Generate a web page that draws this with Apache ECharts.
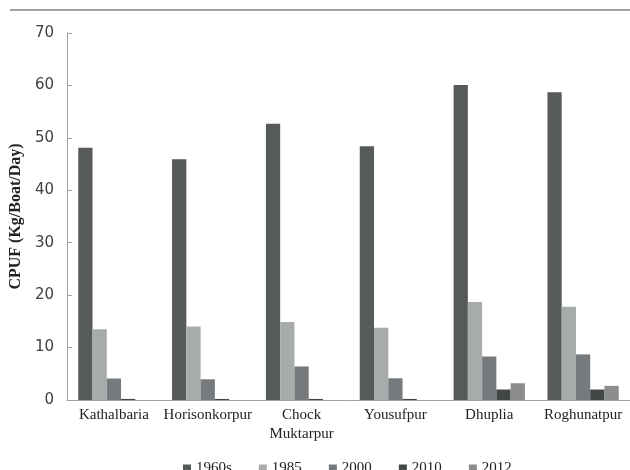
<!DOCTYPE html>
<html>
<head>
<meta charset="utf-8">
<script src="https://cdn.jsdelivr.net/npm/echarts@6/dist/echarts.min.js"></script>
<style>html,body{margin:0;padding:0;background:#fff}#c{width:630px;height:470px}</style>
</head>
<body>
<div id="c"></div>
<script>
const categories = ['Kathalbaria', 'Horisonkorpur', 'Chock\nMuktarpur', 'Yousufpur', 'Dhuplia', 'Roghunatpur'];
const s1960s = [48.1, 45.9, 52.7, 48.4, 60.1, 58.7];
const s1985 = [13.5, 14.0, 14.9, 13.8, 18.7, 17.8];
const s2000 = [4.1, 3.95, 6.4, 4.15, 8.3, 8.7];
const s2010 = [0.2, 0.2, 0.2, 0.2, 2.0, 2.0];
const s2012 = [0, 0, 0, 0, 3.2, 2.7];
const yTicks = [0, 10, 20, 30, 40, 50, 60, 70];

const seriesDefs = [
  ['1960s', s1960s, '#565a5a'],
  ['1985', s1985, '#a8abab'],
  ['2000', s2000, '#777a7c'],
  ['2010', s2010, '#434646'],
  ['2012', s2012, '#8b8d8e']
];

const chart = echarts.init(document.getElementById('c'), null, {renderer: 'canvas'});
chart.setOption({
  animation: false,
  backgroundColor: '#fff',
  graphic: [{
    type: 'line',
    shape: {x1: 10, y1: 10, x2: 630, y2: 10},
    style: {stroke: '#808080', lineWidth: 1.5}
  }],
  grid: {left: 61, top: 33, width: 573, height: 367},
  legend: {
    left: 178, top: 456,
    itemWidth: 8, itemHeight: 8, itemGap: 27,
    icon: 'rect',
    textStyle: {fontFamily: 'Liberation Serif', fontSize: 15, color: '#222'},
    data: seriesDefs.map(d => d[0])
  },
  xAxis: {
    type: 'category',
    data: categories,
    axisLine: {lineStyle: {color: '#a0a0a0', width: 1}},
    axisTick: {inside: true, length: 4, lineStyle: {color: '#a0a0a0'}},
    axisLabel: {interval: 0, fontFamily: 'Liberation Serif', fontSize: 15, color: '#222', margin: 6, lineHeight: 19}
  },
  yAxis: {
    type: 'value',
    min: 0, max: 70, interval: 10,
    name: 'CPUF (Kg/Boat/Day)',
    nameLocation: 'middle',
    nameGap: 38,
    nameTextStyle: {fontFamily: 'Liberation Serif', fontWeight: 'bold', fontSize: 16, color: '#222'},
    axisLine: {show: true, lineStyle: {color: '#a0a0a0', width: 1}},
    axisTick: {show: true, inside: true, length: 5, lineStyle: {color: '#a0a0a0'}},
    axisLabel: {fontFamily: 'DejaVu Sans', fontSize: 15, color: '#404040', margin: 13,
      formatter: v => yTicks.includes(v) ? String(v) : ''},
    splitLine: {show: false}
  },
  series: seriesDefs.map(d => ({
    name: d[0], type: 'bar', data: d[1],
    barGap: '0%', barCategoryGap: '24%',
    itemStyle: {color: d[2]}
  }))
});
</script>
</body>
</html>
